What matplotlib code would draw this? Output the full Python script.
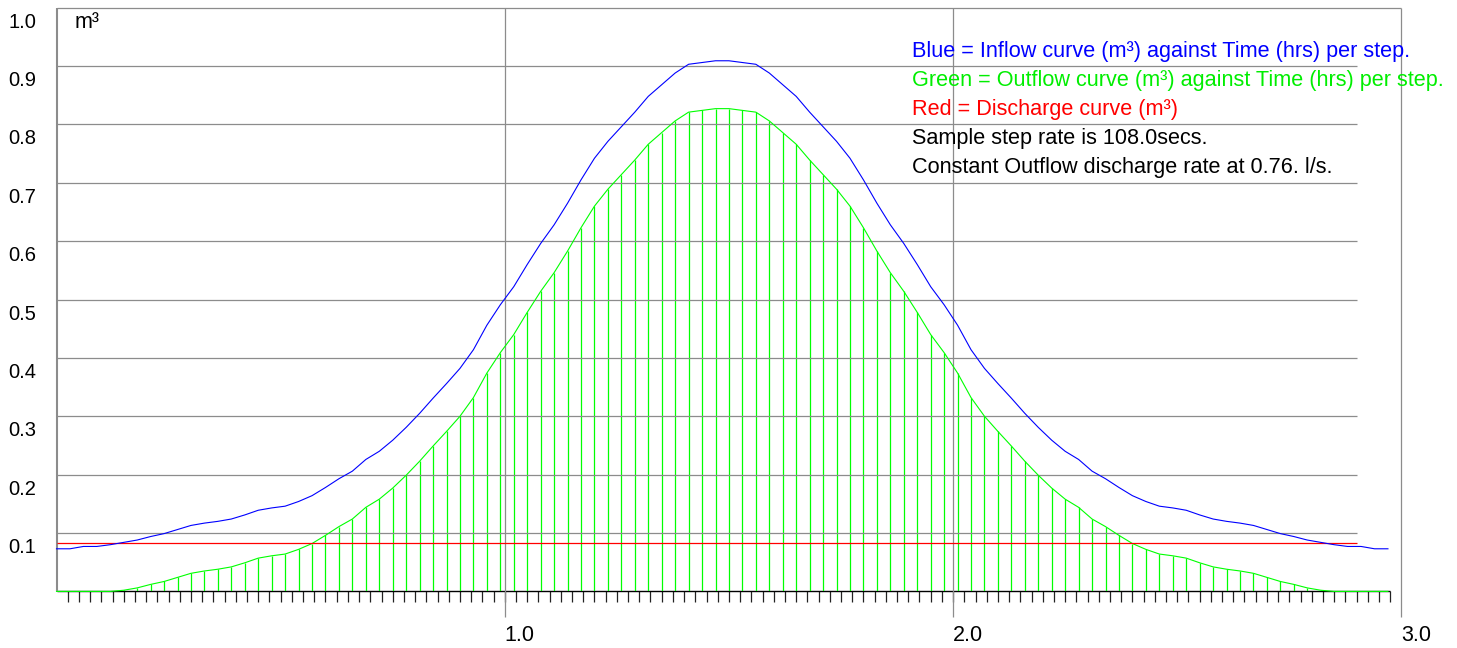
import numpy as np
import matplotlib
matplotlib.use('Agg')
import matplotlib.pyplot as plt

plt.rcParams['font.family'] = ['Liberation Sans', 'DejaVu Sans']

# run settings shown in the notes
step_secs = 108.0
discharge_ls = 0.76

# inflow per step (m3), one value per sample step
inflow = [0.073, 0.073, 0.077, 0.077, 0.080, 0.084, 0.088, 0.094, 0.099, 0.106,
          0.113, 0.117, 0.120, 0.124, 0.131, 0.139, 0.143, 0.146, 0.154, 0.164,
          0.178, 0.193, 0.206, 0.226, 0.240, 0.259, 0.281, 0.305, 0.331, 0.356,
          0.382, 0.414, 0.456, 0.491, 0.522, 0.560, 0.596, 0.628, 0.665, 0.705,
          0.742, 0.771, 0.796, 0.821, 0.848, 0.868, 0.888, 0.903, 0.906, 0.909,
          0.909, 0.906, 0.903, 0.888, 0.868, 0.848, 0.821, 0.796, 0.771, 0.742,
          0.705, 0.665, 0.628, 0.596, 0.560, 0.522, 0.491, 0.456, 0.414, 0.382,
          0.356, 0.331, 0.305, 0.281, 0.259, 0.240, 0.226, 0.206, 0.193, 0.178,
          0.164, 0.154, 0.146, 0.143, 0.139, 0.131, 0.124, 0.120, 0.117, 0.113,
          0.106, 0.099, 0.094, 0.088, 0.084, 0.080, 0.077, 0.077, 0.073, 0.073]

# outflow per step (m3)
outflow = [0.000, 0.000, 0.000, 0.000, 0.000, 0.002, 0.006, 0.012, 0.017, 0.024,
           0.031, 0.035, 0.038, 0.042, 0.049, 0.057, 0.061, 0.064, 0.072, 0.082,
           0.096, 0.111, 0.124, 0.144, 0.158, 0.177, 0.199, 0.223, 0.249, 0.274,
           0.300, 0.332, 0.374, 0.409, 0.440, 0.478, 0.514, 0.546, 0.583, 0.623,
           0.660, 0.689, 0.714, 0.739, 0.766, 0.786, 0.806, 0.821, 0.824, 0.827,
           0.827, 0.824, 0.821, 0.806, 0.786, 0.766, 0.739, 0.714, 0.689, 0.660,
           0.623, 0.583, 0.546, 0.514, 0.478, 0.440, 0.409, 0.374, 0.332, 0.300,
           0.274, 0.249, 0.223, 0.199, 0.177, 0.158, 0.144, 0.124, 0.111, 0.096,
           0.082, 0.072, 0.064, 0.061, 0.057, 0.049, 0.042, 0.038, 0.035, 0.031,
           0.024, 0.017, 0.012, 0.006, 0.002, 0.000, 0.000, 0.000, 0.000, 0.000]

y_ticks = [1.0, 0.9, 0.8, 0.7, 0.6, 0.5, 0.4, 0.3, 0.2, 0.1]
y_labels = ['1.0', '0.9', '0.8', '0.7', '0.6', '0.5', '0.4', '0.3', '0.2', '0.1']
x_ticks = [1.0, 2.0, 3.0]
x_labels = ['1.0', '2.0', '3.0']

notes = ['Blue = Inflow curve (m³) against Time (hrs) per step.',
         'Green = Outflow curve (m³) against Time (hrs) per step.',
         'Red = Discharge curve (m³)',
         'Sample step rate is 108.0secs.',
         'Constant Outflow discharge rate at 0.76. l/s.']
note_colors = ['#0000ff', '#00ee00', '#ff0000', 'black', 'black']

time_hrs = np.arange(len(inflow)) * step_secs / 3600.0
discharge = discharge_ls * step_secs / 1000.0

W, H = 1457, 648
fig = plt.figure(figsize=(W / 100, H / 100), dpi=100)
ax = fig.add_axes([56.5 / W, 56.6 / H, 1344.9 / W, 583.75 / H])
ax.set_xlim(0, 3)
ax.set_ylim(0, 1)
ax.axis('off')

grid = '#8c8c8c'
# horizontal grid
ax.hlines([0.1, 0.2, 0.3, 0.4, 0.5, 0.6, 0.7, 0.8, 0.9], 0, 2.9, colors=grid, lw=0.9, zorder=3)
ax.hlines(1.0, 0, 3.0, colors=grid, lw=0.9, zorder=3, clip_on=False)
# vertical lines at hours, running below the axis
ax.vlines(x_ticks, -0.044, 1.0, colors=grid, lw=0.9, zorder=3, clip_on=False)
ax.vlines(0, 0, 1.0, colors=grid, lw=1.5, zorder=3, clip_on=False)

# small ticks every 0.025 h
tick_x = np.arange(1, 120) * 0.025
ax.vlines(tick_x, -0.019, 0, colors='#222222', lw=0.9, zorder=2, clip_on=False)
ax.hlines(0, 0, 2.975, colors='black', lw=1, zorder=2, clip_on=False)

# outflow bars and curves
ax.vlines(time_hrs, 0, outflow, colors='#00ff00', lw=0.9, zorder=2)
ax.plot(time_hrs, outflow, color='#00ff00', lw=0.8, zorder=4, clip_on=False)
ax.plot(time_hrs, inflow, color='#0000ff', lw=0.8, zorder=5, clip_on=False)
ax.hlines(discharge, 0, 2.9, colors='#ff0000', lw=0.9, zorder=4)

for v, lab in zip(y_ticks, y_labels):
    ax.text(-0.046, v - 0.025, lab, ha='right', va='center', fontsize=14.5, clip_on=False)
for v, lab in zip(x_ticks, x_labels):
    ax.text(v, -0.075, lab, ha='left', va='center', fontsize=15.5, clip_on=False)

ax.text(0.04, 0.975, 'm³', ha='left', va='center', fontsize=15.5)

for i, (txt, c) in enumerate(zip(notes, note_colors)):
    ax.text(1.908, 0.925 - i * 0.0497, txt, color=c, ha='left', va='center',
            fontsize=15.6, zorder=6)

fig.savefig('out.png', dpi=100)
